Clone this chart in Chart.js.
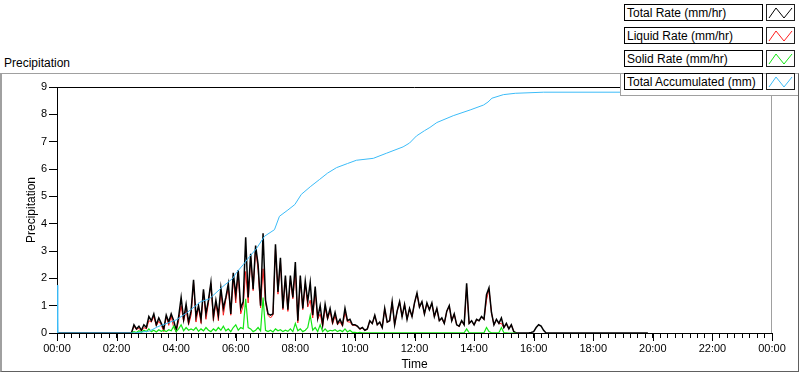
<!DOCTYPE html>
<html>
<head>
<meta charset="utf-8">
<script src="https://cdn.jsdelivr.net/npm/chart.js@4/dist/chart.umd.min.js"></script>
<style>
  html, body { margin: 0; padding: 0; background: #fff; }
  body { width: 800px; height: 373px; position: relative; overflow: hidden; font-family: "Liberation Sans", Arial, sans-serif; font-size: 12px; color: #000; }
  #panel { position: absolute; left: 0; top: 73px; width: 796px; height: 297px; border-top: 1px solid #a0a0a0; border-left: 2px solid #a0a0a0; border-right: 1px solid #606060; border-bottom: 1px solid #606060; }
  #title { position: absolute; left: 4px; top: 56px; line-height: 14px; }
  #chart { position: absolute; left: 0; top: 0; }
  #legendBack { position: absolute; left: 620px; top: 74px; width: 178px; height: 22px; box-sizing: border-box; background: #fff; border-left: 1px solid #a0a0a0; border-bottom: 1px solid #a0a0a0; }
  .lg-label { position: absolute; left: 624px; width: 139px; height: 17px; box-sizing: border-box; border: 1px solid #000; background: #fff; padding: 1px 0 0 2px; line-height: 14px; white-space: nowrap; }
  .lg-swatch { position: absolute; left: 766px; width: 29px; height: 17px; box-sizing: border-box; border: 1px solid #202020; background: #fff; }
  .lg-swatch svg { display: block; }
</style>
</head>
<body>
<div id="panel"></div>
<div id="title">Precipitation</div>
<canvas id="chart" width="800" height="373"></canvas>
<div id="legendBack"></div>
<div id="legend"></div>
<script>
// time in minutes since midnight, rate samples every 5 min from 02:30
const rateStartMin = 150;
const rateStepMin = 5;
const dataEndMin = 1190;

const totalRate = [
  0, 0.3, 0.15, 0.25, 0.1, 0.3,
  0.2, 0.6, 0.45, 0.7, 0.3, 0.55,
  0.35, 0.15, 0.65, 0.4, 0.7, 0.45,
  0.1, 0.6, 1.3, 0.5, 1.05, 0.4,
  0.8, 1.95, 0.6, 1.0, 0.5, 1.6,
  0.7, 1.2, 1.85, 0.6, 1.2, 0.65,
  1.65, 0.9, 1.3, 1.8, 0.7, 2.2,
  1.4, 2.3, 0.9, 1.15, 3.5, 1.3,
  2.9, 1.6, 3.2, 2.5, 1.0, 3.65,
  1.2, 0.7, 0.65, 0.7, 3.25, 1.5,
  2.75, 0.9, 2.1, 0.85, 2.1, 1.3,
  2.6, 0.45, 2.1, 0.9, 1.9, 1.15,
  1.85, 0.65, 1.7, 0.55, 1.0, 0.3,
  1.05, 0.55, 0.9, 0.4, 0.75, 0.35,
  0.5, 0.3, 0.9, 0.45, 0.5, 0.3,
  0.3, 0.25, 0.15, 0.2, 0.1, 0.15,
  0.45, 0.35, 0.65, 0.3, 0.4, 0.2,
  0.9, 0.4, 0.45, 1.15, 0.3, 0.8,
  1.15, 0.6, 1.05, 0.5, 0.9, 0.6,
  1.1, 1.46, 0.95, 1.15, 0.7, 1.1,
  0.85, 1.1, 0.6, 0.9, 0.45, 0.55,
  0.35, 0.8, 1.0, 0.45, 0.7, 0.3,
  0.25, 0.45, 0.3, 1.82, 0.35, 0.45,
  0.3, 0.5, 0.45, 0.6, 0.5, 1.4,
  1.65, 0.75, 0.3, 0.5, 0.35, 0.55,
  0.2, 0.35, 0.15, 0.3, 0.05, 0,
  0, 0, 0, 0, 0, 0.02,
  0.05, 0.2, 0.3, 0.25, 0.1, 0,
  0, 0
];

const liquidRate = [
  0, 0.25, 0.13, 0.17, 0.07, 0.2,
  0.15, 0.45, 0.4, 0.6, 0.26, 0.43,
  0.29, 0.05, 0.6, 0.28, 0.62, 0.2,
  0.05, 0.45, 1.0, 0.42, 0.85, 0.3,
  0.65, 1.85, 0.4, 0.94, 0.35, 1.52,
  0.5, 1.1, 1.8, 0.45, 1.12, 0.45,
  1.55, 0.65, 1.22, 1.65, 0.65, 2.0,
  1.1, 2.2, 0.7, 1.0, 2.25, 1.1,
  2.75, 1.55, 3.1, 2.3, 0.92, 2.35,
  1.1, 0.65, 0.55, 0.66, 3.1, 1.42,
  2.63, 0.85, 2.0, 0.79, 1.95, 1.25,
  2.25, 0.37, 1.95, 0.85, 1.8, 0.95,
  1.2, 0.55, 1.5, 0.5, 0.7, 0.25,
  0.9, 0.5, 0.8, 0.32, 0.63, 0.3,
  0.4, 0.25, 0.75, 0.41, 0.4, 0.28,
  0.28, 0.24, 0.13, 0.19, 0.09, 0.14,
  0.44, 0.34, 0.64, 0.29, 0.39, 0.19,
  0.89, 0.39, 0.44, 1.14, 0.29, 0.79,
  1.14, 0.59, 1.04, 0.49, 0.89, 0.59,
  1.09, 1.45, 0.94, 1.14, 0.69, 1.09,
  0.84, 1.09, 0.59, 0.89, 0.44, 0.54,
  0.34, 0.79, 0.99, 0.44, 0.69, 0.29,
  0.24, 0.44, 0.29, 1.67, 0.34, 0.44,
  0.29, 0.49, 0.44, 0.59, 0.49, 1.2,
  1.6, 0.74, 0.29, 0.49, 0.34, 0.35,
  0.19, 0.34, 0.15, 0.3, 0.05, 0
];

const solidRate = [
  0, 0.05, 0.02, 0.08, 0.03, 0.1,
  0.05, 0.15, 0.05, 0.1, 0.04, 0.12,
  0.06, 0.1, 0.05, 0.12, 0.08, 0.25,
  0.05, 0.15, 0.3, 0.08, 0.2, 0.1,
  0.15, 0.1, 0.2, 0.06, 0.15, 0.08,
  0.2, 0.1, 0.05, 0.15, 0.08, 0.2,
  0.1, 0.25, 0.08, 0.15, 0.05, 0.2,
  0.3, 0.1, 0.2, 0.15, 1.25, 0.2,
  0.15, 0.05, 0.1, 0.2, 0.08, 1.3,
  0.1, 0.05, 0.1, 0.04, 0.15, 0.08,
  0.12, 0.05, 0.1, 0.06, 0.15, 0.05,
  0.35, 0.08, 0.15, 0.05, 0.1, 0.2,
  0.65, 0.1, 0.2, 0.05, 0.3, 0.05,
  0.15, 0.05, 0.1, 0.08, 0.12, 0.05,
  0.1, 0.05, 0.15, 0.04, 0.1, 0.02,
  0.02, 0.01, 0.02, 0.01, 0.01, 0.01,
  0.01, 0.01, 0.01, 0.01, 0.01, 0.01,
  0.01, 0.01, 0.01, 0.01, 0.01, 0.01,
  0.01, 0.01, 0.01, 0.01, 0.01, 0.01,
  0.01, 0.01, 0.01, 0.01, 0.01, 0.01,
  0.01, 0.01, 0.01, 0.01, 0.01, 0.01,
  0.01, 0.01, 0.01, 0.01, 0.01, 0.01,
  0.01, 0.01, 0.01, 0.15, 0.01, 0.01,
  0.01, 0.01, 0.01, 0.01, 0.01, 0.2,
  0.05, 0.01, 0.01, 0.01, 0.01, 0.2,
  0.01, 0.01, 0, 0, 0, 0
];

// accumulated total, read at irregular times (minutes)
const accTimes = [0, 1, 2, 155, 186, 203, 240, 260, 290, 307, 334, 354, 361, 375, 388, 401, 418, 438, 448,
  465, 479, 492, 510, 529, 545, 563, 585, 603, 637, 664, 697, 710, 724, 740, 751, 765, 798, 832, 859,
  868, 876, 899, 923, 980, 1190];
const accTotal = [1.75, 1.75, 0, 0, 0.07, 0.23, 0.48, 0.72, 1.15, 1.25, 1.7, 2.0, 2.2, 2.5, 2.8, 3.07, 3.54, 3.78, 4.27,
  4.5, 4.7, 5.07, 5.35, 5.62, 5.85, 6.05, 6.2, 6.32, 6.39, 6.58, 6.81, 6.95, 7.21, 7.4, 7.52, 7.7, 7.95, 8.16, 8.34,
  8.45, 8.59, 8.72, 8.77, 8.81, 8.81];

const seriesNames = ['Total Rate (mm/hr)', 'Liquid Rate (mm/hr)', 'Solid Rate (mm/hr)', 'Total Accumulated (mm)'];
const seriesColors = ['#000000', '#ff1e1e', '#14e614', '#3cbcf8'];
const majorTickMin = 120;

function ratePoints(values) {
  return values.map((v, i) => ({ x: rateStartMin + i * rateStepMin, y: v }));
}

function hhmm(min) {
  const h = Math.floor(min / 60) % 24;
  const m = min % 60;
  return String(h).padStart(2, '0') + ':' + String(m).padStart(2, '0');
}

// top/right edges of the plot box and the longer major ticks on the time axis
const frame = {
  id: 'frame',
  beforeDatasetsDraw(chart) {
    const { ctx, chartArea: a } = chart;
    ctx.save();
    ctx.lineWidth = 1;
    ctx.strokeStyle = '#000';
    ctx.beginPath();
    ctx.moveTo(a.left, a.top + 0.5);
    ctx.lineTo(a.right, a.top + 0.5);
    ctx.stroke();
    ctx.strokeStyle = '#a0a0a0';
    ctx.beginPath();
    ctx.moveTo(a.right - 0.5, a.top);
    ctx.lineTo(a.right - 0.5, a.bottom);
    ctx.stroke();
    const xs = chart.scales.x;
    ctx.strokeStyle = '#000';
    ctx.beginPath();
    for (let v = xs.min; v <= xs.max; v += majorTickMin) {
      const px = Math.round(xs.getPixelForValue(v)) + 0.5;
      ctx.moveTo(px, a.bottom);
      ctx.lineTo(px, a.bottom + 8);
    }
    ctx.stroke();
    ctx.restore();
  }
};

const lineStyle = { pointRadius: 0, tension: 0, fill: false };

const chart = new Chart(document.getElementById('chart').getContext('2d'), {
  type: 'line',
  data: {
    datasets: [
      Object.assign({ label: seriesNames[0], data: [{ x: 0, y: 0 }, ...ratePoints(totalRate), { x: dataEndMin, y: 0 }], borderColor: seriesColors[0], borderWidth: 1.5, order: 2 }, lineStyle),
      Object.assign({ label: seriesNames[1], data: ratePoints(liquidRate), borderColor: seriesColors[1], borderWidth: 1, order: 3 }, lineStyle),
      Object.assign({ label: seriesNames[2], data: ratePoints(solidRate), borderColor: seriesColors[2], borderWidth: 1.2, order: 1 }, lineStyle),
      Object.assign({ label: seriesNames[3], data: accTimes.map((t, i) => ({ x: t, y: accTotal[i] })), borderColor: seriesColors[3], borderWidth: 1, order: 0 }, lineStyle)
    ]
  },
  options: {
    responsive: false,
    animation: false,
    layout: { padding: { left: 0, top: 87, right: 28, bottom: 0 } },
    plugins: { legend: { display: false }, tooltip: { enabled: false } },
    scales: {
      x: {
        type: 'linear',
        min: 0,
        max: 1440,
        afterFit(scale) { scale.height = 40; },
        border: { color: '#000', width: 1 },
        grid: { drawOnChartArea: false, drawTicks: true, tickLength: 5, tickColor: '#000' },
        ticks: {
          stepSize: 15,
          autoSkip: false,
          maxRotation: 0,
          padding: 4,
          color: '#000',
          font: { family: '"Liberation Sans", Arial, sans-serif', size: 11 },
          callback: (v) => (v % majorTickMin === 0 ? hhmm(v) : '')
        },
        title: { display: true, text: 'Time', color: '#000', padding: { top: 0, bottom: 1 }, font: { family: '"Liberation Sans", Arial, sans-serif', size: 12 } }
      },
      y: {
        min: 0,
        max: 9,
        afterFit(scale) { scale.width = 57; },
        border: { color: '#000', width: 1 },
        grid: { drawOnChartArea: false, drawTicks: true, tickLength: 8, tickColor: '#000' },
        ticks: { stepSize: 1, padding: 2, color: '#000', font: { family: '"Liberation Sans", Arial, sans-serif', size: 11 } },
        title: { display: true, text: 'Precipitation', color: '#000', padding: { top: 24, bottom: 0 }, font: { family: '"Liberation Sans", Arial, sans-serif', size: 12 } }
      }
    }
  },
  plugins: [frame]
});

// legend built from the chart's datasets
const legend = document.getElementById('legend');
chart.data.datasets.forEach((ds, i) => {
  const top = 4 + i * 23;
  const label = document.createElement('div');
  label.className = 'lg-label';
  label.style.top = top + 'px';
  label.textContent = ds.label;
  legend.appendChild(label);
  const sw = document.createElement('div');
  sw.className = 'lg-swatch';
  sw.style.top = top + 'px';
  sw.innerHTML = '<svg width="27" height="15"><polyline points="2,13 9,3 17,13 25,3" fill="none" stroke="' + ds.borderColor + '" stroke-width="1"/></svg>';
  legend.appendChild(sw);
});
</script>
</body>
</html>
